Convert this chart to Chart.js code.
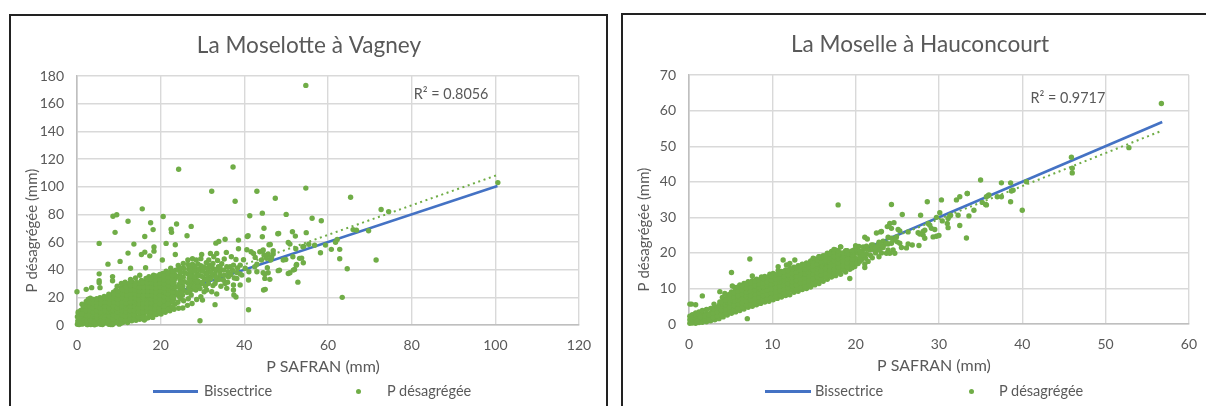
<!DOCTYPE html>
<html>
<head>
<meta charset="utf-8">
<title>P SAFRAN vs P désagrégée</title>
<script src="https://cdn.jsdelivr.net/npm/chart.js@4"></script>
<style>
  html, body { margin: 0; padding: 0; width: 1206px; height: 406px; overflow: hidden; background: #fff; }
  .frame { position: absolute; border: 2px solid #222; box-sizing: border-box; height: 420px; }
  canvas { position: absolute; }
  .legend { position: absolute; top: 383px; font: 14.5px Lato, sans-serif; color: #595959; line-height: 16px; white-space: nowrap; }
  .swatch-line { position: absolute; top: 390px; height: 3px; background: #4472c4; }
  .swatch-dot { position: absolute; top: 389px; width: 5px; height: 5px; border-radius: 50%; background: #70ad47; }
</style>
</head>
<body>
<div class="frame" style="left:9px;top:14px;width:599px"></div>
<div class="frame" style="left:621px;top:13px;width:620px"></div>

<canvas id="moselotteChart" width="595" height="390" style="left:11px;top:16px"></canvas>
<canvas id="moselleChart" width="587" height="390" style="left:622px;top:15px"></canvas>

<div class="swatch-line" style="left:153px;width:45px"></div>
<div class="legend" style="left:204px">Bissectrice</div>
<div class="swatch-dot" style="left:356px"></div>
<div class="legend" style="left:387px">P désagrégée</div>

<div class="swatch-line" style="left:765px;width:46px"></div>
<div class="legend" style="left:815px">Bissectrice</div>
<div class="swatch-dot" style="left:969px"></div>
<div class="legend" style="left:999px">P désagrégée</div>

<script>
// tick labels
const moselotteXTicks = [0, 20, 40, 60, 80, 100, 120];
const moselotteYTicks = [0, 20, 40, 60, 80, 100, 120, 140, 160, 180];
const moselleXTicks = [0, 10, 20, 30, 40, 50, 60];
const moselleYTicks = [0, 10, 20, 30, 40, 50, 60, 70];

// bissectrice and trend line ends
const moselotteBisector = [[0, 0], [100.5, 100.5]];
const moselotteTrend = [[0, 1], [100.5, 108.5]];
const moselleBisector = [[0, 0], [56.8, 56.8]];
const moselleTrend = [[0, 1.6], [56.8, 54.4]];

// dense band first then the scattered points
const moselottePoints = [
  [0.1,0.5],[0.2,3],[0.1,6],[0.3,8.5],[0.6,1.5],[0.7,4.5],[0.8,7.5],[0.9,10.5],
  [1.2,0.6],[1.3,3.5],[1.1,6.5],[1.4,9.5],[1.5,12.5],[1.2,15],[1.7,1.5],[1.8,5],[1.9,8],[1.8,11],[2,14.5],[2.2,17],
  [2.6,0.3],[2.7,3.1],[2.5,6.2],[2.8,9.2],[2.6,12.1],[2.9,15.4],[2.7,18.6],[3.4,1.7],[3.5,4.8],[3.3,7.7],[3.6,10.8],[3.4,13.6],[3.7,16.8],[3.2,19.3],
  [4.2,0.2],[4.1,3.4],[4.4,6.3],[4.2,9.4],[4.5,12.3],[4.3,15.2],[4.6,18],[5.1,1.6],[5,4.9],[5.3,7.8],[5.2,10.9],[5.4,13.8],[5.1,16.7],[5.5,19.8],
  [6.1,0.4],[6.2,3.2],[6,6.3],[6.3,9.3],[6.1,12.4],[6.4,15.3],[6.2,18.2],[6.5,20.6],[7,1.8],[7.2,5],[7.1,8],[7.3,11],[7,14],[7.4,17],[7.2,20],[7.6,22.3],
  [8.1,0.3],[8,3.3],[8.3,6.4],[8.1,9.4],[8.4,12.5],[8.2,15.5],[8.5,18.5],[8.3,21.4],[8.7,23.8],[9,1.6],[9.2,4.9],[9.1,8],[9.3,11],[9.1,14],[9.4,17],[9.2,20],[9.5,23],[9.3,25.2],
  [10.1,0.6],[10.2,3.4],[10,6.5],[10.3,9.5],[10.1,12.6],[10.4,15.6],[10.2,18.6],[10.5,21.6],[10.3,24.5],[10.6,27],[11,2],[11.2,5],[11.1,8],[11.3,11.1],[11,14.1],[11.4,17.1],[11.2,20.1],[11.5,23.1],[11.1,26.1],[11.4,29.2],
  [12.1,1.8],[12,3.6],[12.3,6.6],[12.1,9.6],[12.4,12.7],[12.2,15.7],[12.5,18.7],[12.3,21.7],[12.6,24.7],[12.2,27.7],[12.5,30.2],[13.1,3],[13.2,5.2],[13,8.2],[13.3,11.2],[13.1,14.2],[13.4,17.2],[13.2,20.2],[13.5,23.2],[13.1,26.2],[13.4,29.2],[13.2,31],
  [14.1,3.4],[14,6.7],[14.3,9.7],[14.1,12.8],[14.4,15.8],[14.2,18.8],[14.5,21.8],[14.3,24.8],[14.6,27.8],[14.2,30.8],[15,4.2],[15.2,8],[15.1,11.3],[15.3,14.3],[15,17.3],[15.4,20.3],[15.2,23.3],[15.5,26.3],[15.1,29.3],[15.4,32.3],
  [16.1,3.6],[16,6.8],[16.3,9.8],[16.1,12.9],[16.4,15.9],[16.2,18.9],[16.5,21.9],[16.3,24.9],[16.6,27.9],[16.2,30.9],[16.5,33.6],[17,5.3],[17.2,8.4],[17.1,11.4],[17.3,14.4],[17,17.4],[17.4,20.4],[17.2,23.4],[17.5,26.4],[17.1,29.4],[17.4,32.4],[17.2,35],
  [18.1,5.5],[18,7.9],[18.3,9.9],[18.1,13],[18.4,16],[18.2,19],[18.5,22],[18.3,25],[18.6,28],[18.2,31],[18.5,34],[18.3,36],[19,7.6],[19.2,11.5],[19.1,14.5],[19.3,17.5],[19,20.5],[19.4,23.5],[19.2,26.5],[19.5,29.5],[19.1,32.5],[19.4,35.5],
  [20.1,8],[20,10.6],[20.3,13.1],[20.1,16.1],[20.4,19.1],[20.2,22.1],[20.5,25.1],[20.3,28.1],[20.6,31.1],[20.2,34.1],[20.5,37.2],[21.1,9.2],[21.3,12.4],[21,15.5],[21.4,18.6],[21.2,21.6],[21.5,24.6],[21.1,27.6],[21.4,30.6],[21.2,33.6],[21.5,36.6],[21.3,39],
  [22.2,10.3],[22.1,13.8],[22.4,17.1],[22.2,20.2],[22.5,23.2],[22.3,26.2],[22.6,29.2],[22.2,32.2],[22.5,35.2],[22.3,38.2],[22.4,41],[23.2,11.4],[23.4,15],[23.1,18.7],[23.5,21.7],[23.3,24.7],[23.6,27.7],[23.2,30.7],[23.5,33.7],[23.3,36.7],[23.6,39.7],
  [24.3,12.1],[24.1,16.4],[24.5,20.5],[24.2,23.3],[24.6,26.3],[24.4,29.3],[24.7,32.3],[24.3,35.3],[24.6,38.3],[24.4,41.3],[24.2,43],[25.3,12.3],[25.5,17.5],[25.2,21.6],[25.6,24.8],[25.3,28],[25.7,31.4],[25.4,34.6],[25.8,37.8],[25.5,41],[25.4,44.5],
  [26.4,14.2],[26.6,19],[26.3,23.5],[26.7,27.2],[26.5,30.4],[26.8,33.8],[26.4,37],[26.7,40.5],[26.5,43.8],[26.5,47],[27.5,15.5],[27.3,21.7],[27.7,26],[27.4,30],[27.8,33.5],[27.5,37.2],[27.9,41],[27.6,44],[27.6,47.9],
  [28.6,18.4],[28.4,25.3],[28.7,29.4],[28.5,33],[28.8,37],[28.6,40.6],[28.9,44.2],[28.5,47],[29.6,20.4],[29.4,26.4],[29.8,30],[29.5,35.5],[29.9,39],[29.6,42.8],[29.8,51],[29.6,48],
  [30,18],[30.4,24],[30.7,28],[30.5,33],[30.8,37.4],[30.6,41.5],[30.9,45],[31,25.3],[31.4,30],[31.6,34.6],[31.4,39.2],[31.7,43.2],[31.5,47],[31.9,51.8],
  [32.2,24.1],[32.5,28.5],[32.4,36],[32.6,40.8],[32.7,49.4],[32.5,44.5],[33,37.3],[33.4,32.5],[33.4,22.4],[33.8,42.1],[33.4,51.8],[33.6,46.7],
  [34.2,36.1],[34.4,28],[34.6,44.3],[35,39.7],[35.4,30],[35.8,42.1],[35.7,52.5],[35.2,47.7],[35.8,26.5],[36.2,34.9],[36.6,42.1],[36.9,49.4],[37.4,43.3],[37.4,28.9],[37.4,25.3],[37.5,21.7],[38,20.2],[38,47.4],[38.2,33.7],[38.6,55.2],[39,28.9],[39,43.3],[39.4,36.1],[39.8,47.2],
  [40.2,41],[40.6,54.4],[41,32.5],[41.1,38.5],[41.6,53],[42.2,51.8],[42.5,42.1],[42.6,48.9],[43,38.5],[43,44],[43.7,53],[44.5,54.2],[44.6,25.3],
  [0,24],[2.2,25.8],[3.5,27],[5.3,30.5],[5.3,32],[5.3,37],[5.3,59],[5.5,27],[7.4,44],[8.6,78.7],[9.5,79.7],[9.1,67],[8.5,35],[8.5,32],[10.3,46],[12.2,75],[12.2,52],[13.6,58.5],[12.8,41],
  [15.6,84],[16.2,64],[15.4,51],[16.2,52.7],[16.4,41.4],[17.6,74],[18.2,69],[17.4,50],[18.4,53.4],[18.4,56.5],[20.6,78.5],[20.4,47],[21.3,59],[22.5,69.3],[22.6,67],[23.8,73],[23.5,58],[23.5,51],
  [24.3,112.6],[26.3,64.5],[27.3,71.3],[32.2,96.7],[33.2,59.2],[33.9,60.4],[35.4,62],[37.3,114.3],[37.8,89.5],[38.6,61.4],[40.7,64],[33,14.7],[29.4,3.1],[41,11],[43,96.7],[41.3,79],[40.9,64.5],
  [44.3,80.9],[44.7,70],[44.3,63.8],[47.4,91.7],[48.2,66.2],[50,80],[45,25.8],[54.7,173.3],[54.7,99],[46.2,58.2],[46.3,47],[50.5,59.7],[50.9,58.5],[51.5,67.4],[52.2,64.3],[52.8,31],[50.9,37.8],[52,40.2],[52.5,43.8],
  [54.1,45],[53.7,48.4],[49.9,47.4],[48.4,39.7],[56.2,77.2],[58.4,75.4],[65.4,92.4],[72.7,83.5],[74.5,82],[66,69],[66.8,68.6],[69.7,68.2],[58.2,52.3],[60.8,54.7],[62.8,54.7],[62.8,47.9],[64.6,40.7],[71.5,47],[63.4,20],
  [59.4,57.8],[61.8,59.8],[62.2,61.8],[56.8,57.7],[55.4,58.4],[54.2,56.9],[100.6,103],[52.3,55.2],[54,56.6],[48,66],[54.8,66.8],[44.4,53.7],[46.9,53.7],[45.9,58],[44.7,50.6],[45.7,51.3],[46.9,51.3],[45.3,48.2],[44.1,47],
  [46.5,48.9],[49.3,47],[51.6,49.4],[53.2,48.2],[52.4,43.3],[51.7,39.7],[50.5,37.3],[48.1,39.3],[46.1,33],[44.9,33.7],[45.7,37.8],[44.5,37.8],[45.5,41.4],[44.9,36.8]
];
const moselotteGaps = [
  [0.5,3],[0.4,6],[0.3,9.5],[1.5,2],[1.6,7],[1.5,11],[1.6,14],[2.2,1.5],[2.2,4.5],[2.1,7.5],[2.2,10.5],[2.3,13.5],[3,1.5],[3.1,4.5],[3,7.5],[3.1,10.5],[3,13.5],[3,16.5],
  [3.9,0.5],[3.8,3.5],[3.9,6.5],[3.9,9.5],[3.8,12.5],[3.9,15.5],[3.9,18.5],[4.7,1.5],[4.7,4.5],[4.8,7.5],[4.7,10.5],[4.8,13.5],[4.7,16.5],[4.7,19],
  [5.6,0.5],[5.6,3.5],[5.7,6.5],[5.7,9.5],[5.6,12.5],[5.8,15.5],[5.7,18.5],[6.6,1.5],[6.6,4.5],[6.6,7.5],[6.7,10.5],[6.6,13.5],[6.7,16.5],[6.8,19.5],
  [7.6,0.5],[7.6,3.5],[7.7,6.5],[7.6,9.5],[7.7,12.5],[7.8,15.5],[7.8,18.5],[7.9,21],[8.6,1.5],[8.6,4.5],[8.7,7.5],[8.7,10.5],[8.7,13.5],[8.8,16.5],[8.8,19.5],[8.9,22.5],
  [9.6,2],[9.6,6],[9.7,9.5],[9.7,12.5],[9.8,15.5],[9.7,18.5],[9.9,21.5],[9.8,24.5],[9.6,28],[10.6,1.5],[10.6,4.5],[10.7,7.5],[10.7,10.5],[10.8,13.5],[10.8,16.5],[10.9,19.5],[10.9,22.5],[10.9,25.5],[10.6,30],
  [11.6,3.5],[11.6,6.5],[11.7,9.5],[11.7,12.5],[11.8,15.5],[11.8,18.5],[11.9,21.5],[11.9,24.5],[11.8,27.5],[11.5,31],[12.7,4.5],[12.7,7.5],[12.7,10.5],[12.8,13.5],[12.8,16.5],[12.9,19.5],[12.9,22.5],[12.9,25.5],[12.8,28.5],[12.8,33],
  [13.7,4.5],[13.7,7.5],[13.7,10.5],[13.8,13.5],[13.8,16.5],[13.9,19.5],[13.9,22.5],[13.9,25.5],[13.8,28.5],[14,34],[14.7,5.5],[14.7,9.5],[14.7,12.5],[14.8,15.5],[14.8,18.5],[14.9,21.5],[14.9,24.5],[14.9,27.5],[14.8,30.5],[15,36],
  [15.7,5.5],[15.7,9.5],[15.8,12.5],[15.8,15.5],[15.8,18.5],[15.9,21.5],[15.9,24.5],[15.9,27.5],[15.8,30.5],[16.7,5],[16.7,9.5],[16.8,12.5],[16.8,15.5],[16.8,18.5],[16.9,21.5],[16.9,24.5],[16.9,27.5],[16.8,30.5],[16.8,33.5],
  [17.7,6.5],[17.7,9.5],[17.8,12.5],[17.8,15.5],[17.8,18.5],[17.9,21.5],[17.9,24.5],[17.9,27.5],[17.8,30.5],[17.8,33.5],[18.7,8.5],[18.7,11.5],[18.8,14.5],[18.8,17.5],[18.8,20.5],[18.9,23.5],[18.9,26.5],[18.9,29.5],[18.8,32.5],[18.8,35.5],
  [19.7,9.5],[19.7,12.5],[19.8,15.5],[19.8,18.5],[19.8,21.5],[19.9,24.5],[19.9,27.5],[19.9,30.5],[19.8,33.5],[19.8,36.5],[20.8,10.5],[20.8,13.5],[20.8,17.5],[20.8,20.5],[20.9,23.5],[20.9,26.5],[20.9,29.5],[20.8,32.5],[20.8,35.5],
  [21.8,11.5],[21.8,15.5],[21.8,19],[21.8,22.5],[21.9,25.5],[21.9,28.5],[21.9,31.5],[21.8,34.5],[21.8,37.5],[22.8,13],[22.8,17],[22.8,20.5],[22.9,24],[22.9,27],[22.9,30],[22.8,33],[22.8,36],[22.9,39],
  [24.8,19],[24.9,23],[24.9,27.5],[24.8,31],[24.9,34.5],[24.8,38],[24.8,41],[27,24.5],[26.9,29],[27,32],[27.1,35.5],[27.1,39],[27,42.5],[28,27.5],[28.1,31],[28.2,35],[28.1,39],[28.2,42.6],
  [29,28],[29,31.5],[29.1,36],[29.2,40],[30,31],[30,35],[30.1,39],[30.1,42],[31,33],[31,36.5],[31.2,40.8],[32,33.5],[32,38],[32.1,42],[33,30],[33.2,34.5],[33.3,40],[34.1,33],[34.1,38.8],[34.2,42],[35.2,36],[35,32.5],[36.1,38.5],[36,31],[36.8,36.5],[37.2,39.6],[37.6,34],[38.2,38],[38.4,41.2],[39,37],
  [0.3,1.8],[0.5,0.4],[0.9,2.8],[1,5],[1.2,8],[1.7,3.4],[2.4,0.4],[2.4,3],[3.3,0.4],[3.3,3.2],[4,2],[4.6,0.6],[5.4,2.4],[6.3,2.2],[7.4,2.4],[8.5,0.4]
];

const moselPointsDense = [
  [0.1,0.2],[0.1,1.2],[0.1,2.2],[0.4,0.3],[0.4,1.5],[0.4,2.6],[0.8,0.2],[0.8,1.2],[0.8,2.3],[0.8,3.1],
  [1.2,0.4],[1.2,1.5],[1.2,2.6],[1.2,3.4],[1.6,0.5],[1.6,1.7],[1.6,2.8],[1.6,3.8],[2.1,0.6],[2.1,1.7],[2.1,2.9],[2.1,4.1],
  [2.6,0.9],[2.6,2.1],[2.6,3.2],[2.6,4.4],[3.1,1.2],[3.1,2.4],[3.1,3.6],[3.1,4.8],[3,5.6],[3.6,1.5],[3.6,2.8],[3.6,4],[3.6,5.2],[3.7,6.2],
  [4.1,2],[4.1,3.2],[4.1,4.4],[4.1,5.6],[4.1,6.8],[4,7.5],[4.6,2.5],[4.6,3.7],[4.6,4.9],[4.6,6.1],[4.6,7.3],[4.5,8.2],
  [5.1,3],[5.1,4.2],[5.1,5.4],[5.1,6.6],[5.1,7.8],[5.1,9],[5.6,3.4],[5.6,4.6],[5.6,5.8],[5.6,7],[5.6,8.2],[5.6,9.4],[5.5,10.3],
  [6.1,3.8],[6.1,5],[6.1,6.2],[6.1,7.4],[6.1,8.6],[6.1,9.8],[6.1,11],[6.6,4.2],[6.6,5.4],[6.6,6.6],[6.6,7.8],[6.6,9],[6.6,10.2],[6.6,11.4],
  [7.1,4.7],[7.1,5.9],[7.1,7.1],[7.1,8.3],[7.1,9.5],[7.1,10.7],[7.1,11.9],[7.6,5],[7.6,6.2],[7.6,7.4],[7.6,8.6],[7.6,9.8],[7.6,11],[7.6,12.2],
  [8.1,5.4],[8.1,6.6],[8.1,7.8],[8.1,9],[8.1,10.2],[8.1,11.4],[8.1,12.6],[8.6,5.8],[8.6,7],[8.6,8.2],[8.6,9.4],[8.6,10.6],[8.6,11.8],[8.7,13.2],
  [9.1,6.2],[9.1,7.4],[9.1,8.6],[9.1,9.8],[9.1,11],[9.1,12.2],[9.1,13.4],[9.6,6.4],[9.6,7.7],[9.6,8.9],[9.6,10.1],[9.6,11.3],[9.6,12.5],[9.7,14],
  [10.1,6.8],[10.1,8.1],[10.1,9.3],[10.1,10.5],[10.1,11.7],[10.1,12.9],[10.1,14.2],[10.6,7.2],[10.6,8.5],[10.6,9.7],[10.6,10.9],[10.6,12.1],[10.6,13.3],[10.7,15],[10.7,16.1],
  [11.1,7.6],[11.1,8.8],[11.1,10],[11.1,11.2],[11.1,12.4],[11.1,13.6],[11.1,14.8],[11.3,18],[11.6,8],[11.6,9.2],[11.6,10.4],[11.6,11.6],[11.6,12.8],[11.6,14],[11.6,15.2],[11.7,16.6],
  [12.1,8.2],[12.1,9.6],[12.1,10.8],[12.1,12],[12.1,13.2],[12.1,14.4],[12.1,15.6],[12.1,17],[12.7,18],[12.6,8.9],[12.6,10.1],[12.6,11.3],[12.6,12.5],[12.6,13.7],[12.6,14.9],[12.6,16],
  [13.1,9.2],[13.1,10.4],[13.1,11.6],[13.1,12.8],[13.1,14],[13.1,15.2],[13.1,16.4],[13.6,9.7],[13.6,10.9],[13.6,12.1],[13.6,13.3],[13.6,14.5],[13.6,15.7],[13.6,16.8],
  [14.1,10],[14.1,11.2],[14.1,12.4],[14.1,13.6],[14.1,14.8],[14.1,16],[14.1,17.2],[14.6,10.4],[14.6,11.6],[14.6,12.8],[14.6,14],[14.6,15.2],[14.6,16.4],[14.6,17.7],
  [15.1,11],[15.1,12.2],[15.1,13.4],[15.1,14.6],[15.1,15.8],[15.1,17],[15.1,18.3],[15.6,11.4],[15.6,12.6],[15.6,13.8],[15.6,15],[15.6,16.2],[15.6,17.4],[15.6,18.9],
  [16.1,12],[16.1,13.2],[16.1,14.4],[16.1,15.6],[16.1,16.8],[16.1,18],[16.1,19.2],[16.6,12.6],[16.6,13.8],[16.6,15],[16.6,16.2],[16.6,17.4],[16.6,18.6],[16.6,19.9],
  [17.1,13.2],[17.1,14.4],[17.1,15.6],[17.1,16.8],[17.1,18],[17.1,19.2],[17.1,20.4],[17.6,13.6],[17.6,14.8],[17.6,16],[17.6,17.2],[17.6,18.4],[17.6,19.6],[17.6,20.8],
  [18.2,14],[18.2,15.2],[18.2,16.4],[18.2,17.6],[18.2,18.8],[18.2,20],[18.2,21.7],[18.8,14.6],[18.8,15.8],[18.8,17],[18.8,18.2],[18.8,19.4],[18.8,20.6],
  [19.3,12.8],[19.3,15.4],[19.3,16.6],[19.3,17.8],[19.3,19],[19.3,20.2],[19.9,16.2],[19.9,17.4],[19.9,18.6],[19.9,19.8],[19.9,21],
  [20.3,17],[20.3,18.2],[20.3,19.9],[20.1,21.3],[20.7,18],[20.7,19.2],[20.8,20.4],[20.9,21.7],[21.1,15.9],[21.1,16.9],[21.2,18.5],[21.3,19.7],[21.3,21],[21.3,21.9],[21.7,20.8],[21.8,19.3],[22.1,22.2],[22.2,20.9]
];
const moselPointsGaps = [
  [1,0.9],[1.4,2],[1.9,1.2],[1.9,2.3],[2.4,1.5],[2.4,2.6],[2.9,1.8],[2.9,3],[2.9,4.2],[3.4,2.2],[3.4,3.4],[3.4,4.6],[3.9,2.6],[3.9,3.8],[3.9,5],[3.9,6.2],[4.4,3.1],[4.4,4.3],[4.4,5.5],[4.4,6.7],
  [4.9,3.6],[4.9,4.8],[4.9,6],[4.9,7.2],[4.9,8.4],[5.4,4],[5.4,5.2],[5.4,6.4],[5.4,7.6],[5.4,8.8],[5.9,4.4],[5.9,5.6],[5.9,6.8],[5.9,8],[5.9,9.2],[5.9,10.4],[6.4,4.8],[6.4,6],[6.4,7.2],[6.4,8.4],[6.4,9.6],[6.4,10.8],
  [6.9,5.3],[6.9,6.5],[6.9,7.7],[6.9,8.9],[6.9,10.1],[6.9,11.3],[7.4,5.6],[7.4,6.8],[7.4,8],[7.4,9.2],[7.4,10.4],[7.4,11.6],[7.9,6],[7.9,7.2],[7.9,8.4],[7.9,9.6],[7.9,10.8],[7.9,12],
  [8.4,6.4],[8.4,7.6],[8.4,8.8],[8.4,10],[8.4,11.2],[8.4,12.4],[8.9,6.8],[8.9,8],[8.9,9.2],[8.9,10.4],[8.9,11.6],[8.9,12.8],[9.4,7],[9.4,8.3],[9.4,9.5],[9.4,10.7],[9.4,11.9],[9.4,13.1],
  [9.9,7.4],[9.9,8.7],[9.9,9.9],[9.9,11.1],[9.9,12.3],[9.9,13.5],[10.4,7.8],[10.4,9.1],[10.4,10.3],[10.4,11.5],[10.4,12.7],[10.4,13.9],[10.9,8.2],[10.9,9.4],[10.9,10.6],[10.9,11.8],[10.9,13],[10.9,14.2],
  [11.4,8.6],[11.4,9.8],[11.4,11],[11.4,12.2],[11.4,13.4],[11.4,14.6],[11.9,9],[11.9,10.2],[11.9,11.4],[11.9,12.6],[11.9,13.8],[11.9,15],[12.4,9.5],[12.4,10.7],[12.4,11.9],[12.4,13.1],[12.4,14.3],[12.4,15.5],
  [12.9,9.8],[12.9,11],[12.9,12.2],[12.9,13.4],[12.9,14.6],[12.9,15.8],[13.4,10.3],[13.4,11.5],[13.4,12.7],[13.4,13.9],[13.4,15.1],[13.4,16.3],[13.9,10.6],[13.9,11.8],[13.9,13],[13.9,14.2],[13.9,15.4],[13.9,16.6],
  [14.4,11],[14.4,12.2],[14.4,13.4],[14.4,14.6],[14.4,15.8],[14.4,17],[14.9,11.6],[14.9,12.8],[14.9,14],[14.9,15.2],[14.9,16.4],[14.9,17.6],[15.4,12],[15.4,13.2],[15.4,14.4],[15.4,15.6],[15.4,16.8],[15.4,18],
  [15.9,12.6],[15.9,13.8],[15.9,15],[15.9,16.2],[15.9,17.4],[15.9,18.6],[16.4,13.2],[16.4,14.4],[16.4,15.6],[16.4,16.8],[16.4,18],[16.4,19.2],[16.9,13.8],[16.9,15],[16.9,16.2],[16.9,17.4],[16.9,18.6],[16.9,19.8],
  [17.4,14.2],[17.4,15.4],[17.4,16.6],[17.4,17.8],[17.4,19],[17.4,20.2],[17.9,14.8],[17.9,16],[17.9,17.2],[17.9,18.4],[17.9,19.6],[17.9,20.6],[18.5,15.2],[18.5,16.4],[18.5,17.6],[18.5,18.8],[18.5,20],[19,16],[19,17.2],[19,18.4],[19,19.6],[19,20.6],
  [19.6,15.8],[19.6,17],[19.6,18.2],[19.6,19.4],[19.6,20.6],[20.5,17.6],[20.5,18.8],[20.5,20.4],[20.9,19.4],[21.5,17.6],[22,18.6],[22.4,20],[22.6,21],
  [20,22],[20.4,21.8],[21.9,22.2],[22,21.4],[22.3,21.5],[22.7,22],[23.2,21.8],[23.5,22.4],[23.9,22.5],[23.3,23.3],[22.8,23]
];
const moselPointsScatter = [
  [0.1,5.6],[0.3,5.6],[0.8,5.4],[1.6,7.9],[7,1.5],[5.1,14.5],[5.2,10.7],[7.3,18.3],[7.6,13.5],[3.7,9.1],[4.3,8.6],[17.9,33.5],[24.3,33.6],[25.6,30.8],[24.1,28.3],[24.6,28.5],
  [23.8,27.4],[24.3,26.9],[25.1,26.6],[25.3,26.2],[22.5,25.6],[23,25.9],[21.1,24.4],[21.4,23.9],[22.9,22.7],[22.8,18.9],[23.7,19.9],[14.9,18.5],[15.6,18.9],[17.4,21],[18.2,21.7],
  [28.6,34.4],[30.3,34.9],[32.1,34.9],[32.5,35.8],[33.4,36.7],[35.9,36.1],[35,40.5],[27.8,30.6],[30.1,31.3],[23.1,26],[26.3,25.9],[27.5,25.7],[28.1,26],[28.7,28.3],[28.9,27.8],[28.3,26.4],
  [28.1,25],[27.7,25.3],[28.3,24.1],[29.1,26.9],[29.5,26.6],[29.3,24.5],[29.7,24.7],[30,24.9],[27.6,22.1],[26.8,22.2],[26.3,22.5],[26.1,21.4],[23.9,24.4],[24.3,24.1],[24.9,24.5],[25,23.1],
  [25.3,22.7],[25.5,21.5],[24.7,23.6],[24.3,22.7],[23.7,22.7],[23.3,21.5],[23.9,20.8],[24.5,20.8],[24.7,19.9],[23.1,20],[24.1,19.9],[22.9,20.8],[29.7,30],[30.4,29],[31.1,29.7],[31.3,30.4],
  [32.3,30.6],[31,28.3],[31.1,27.1],[32.5,27.7],[33.6,30.4],[34.2,32],[33.3,24.2],[35.2,34.2],[35.6,33.6],[56.7,62],[52.8,49.6],[45.9,46.9],[46,43.8],[46,42.5],[40.5,40],[38.6,39.7],[37.5,39.7],
  [40,32],[38.6,34.4],[38.7,37.4],[38.9,37.6],[37,35.8],[37.5,35.8],[36,36.3],[35.7,35.8],[35.7,33.5],[33.4,36.7],[31.4,30.6]
];

const r2Moselotte = 'R² = 0.8056';
const r2Moselle = 'R² = 0.9717';

const moselotteTitle = 'La Moselotte à Vagney';
const moselleTitle = 'La Moselle à Hauconcourt';
const xAxisTitle = 'P SAFRAN (mm)';
const yAxisTitle = 'P désagrégée (mm)';

const GREY = '#595959';
const GRID = '#d9d9d9';
const toXY = p => ({ x: p[0], y: p[1] });

// R² label, placed in data coordinates, and small moves of the axis titles
const chartExtras = {
  id: 'chartExtras',
  beforeDraw(chart, args, opts) {
    const scales = [[chart.scales.x, opts.xNudge], [chart.scales.y, opts.yNudge]];
    scales.forEach(([scale, nudge]) => {
      if (scale.nudged) return;
      scale.nudged = true;
      const drawTitle = scale.drawTitle;
      scale.drawTitle = function () {
        chart.ctx.save();
        chart.ctx.translate(nudge[0], nudge[1]);
        drawTitle.call(this);
        chart.ctx.restore();
      };
    });
  },
  afterDatasetsDraw(chart, args, opts) {
    const ctx = chart.ctx;
    ctx.save();
    ctx.font = '14.4px Lato';
    ctx.fillStyle = GREY;
    ctx.textBaseline = 'middle';
    ctx.fillText(opts.text, chart.scales.x.getPixelForValue(opts.at[0]), chart.scales.y.getPixelForValue(opts.at[1]));
    ctx.restore();
  }
};

function buildChart(id, cfg) {
  return new Chart(document.getElementById(id), {
    type: 'scatter',
    data: {
      datasets: [{
        label: 'Bissectrice',
        data: cfg.bisector.map(toXY),
        showLine: true,
        borderColor: '#4472c4',
        borderWidth: 2.6,
        pointRadius: 0,
        order: 3
      }, {
        label: 'P désagrégée',
        data: cfg.points.map(toXY),
        backgroundColor: '#70ad47',
        borderColor: '#70ad47',
        pointRadius: 2.7,
        pointBorderWidth: 0,
        clip: false,
        order: 2
      }, {
        label: 'Linéaire (P désagrégée)',
        data: cfg.trend.map(toXY),
        showLine: true,
        borderColor: '#70ad47',
        borderWidth: 2,
        borderDash: [2, 3.6],
        pointRadius: 0,
        order: 1
      }]
    },
    options: {
      responsive: false,
      animation: false,
      layout: { padding: { left: 28, right: cfg.padRight, top: 0, bottom: 0 } },
      scales: {
        x: {
          min: cfg.xTicks[0],
          max: cfg.xTicks[cfg.xTicks.length - 1],
          afterBuildTicks: s => { s.ticks = cfg.xTicks.map(v => ({ value: v })); },
          afterFit: s => { s.height = 81; },
          grid: { color: GRID, lineWidth: 1.4, drawTicks: false },
          border: { color: '#bfbfbf', width: 1.6 },
          ticks: { color: GREY, font: { family: 'Lato', size: 14 }, padding: 12, maxRotation: 0 },
          title: { display: true, text: xAxisTitle, color: GREY, font: { family: 'Lato', size: 16 }, padding: { top: 0, bottom: 30 } }
        },
        y: {
          min: cfg.yTicks[0],
          max: cfg.yTicks[cfg.yTicks.length - 1],
          afterBuildTicks: s => { s.ticks = cfg.yTicks.map(v => ({ value: v })); },
          afterFit: s => { s.width = cfg.yWidth; },
          grid: { color: GRID, lineWidth: 1.4, drawTicks: false },
          border: { color: '#bfbfbf', width: 1.6 },
          ticks: { color: GREY, font: { family: 'Lato', size: 14 }, padding: 13 },
          title: { display: true, text: yAxisTitle, color: GREY, font: { family: 'Lato', size: 15 }, padding: 0 }
        }
      },
      plugins: {
        legend: { display: false },
        tooltip: { enabled: false },
        title: {
          display: true,
          text: cfg.title,
          color: GREY,
          font: { family: 'Lato', size: 22.6, weight: 'normal' },
          padding: { top: 16, bottom: 17 }
        },
        chartExtras: { text: cfg.r2, at: cfg.r2At, xNudge: [-5, 0], yNudge: cfg.yNudge }
      }
    },
    plugins: [chartExtras]
  });
}

buildChart('moselotteChart', {
  title: moselotteTitle,
  bisector: moselotteBisector,
  trend: moselotteTrend,
  points: moselottePoints.concat(moselotteGaps),
  xTicks: moselotteXTicks,
  yTicks: moselotteYTicks,
  r2: r2Moselotte,
  r2At: [80.5, 167],
  padRight: 27,
  yWidth: 38,
  yNudge: [-15.5, 30]
});

buildChart('moselleChart', {
  title: moselleTitle,
  bisector: moselleBisector,
  trend: moselleTrend,
  points: moselPointsDense.concat(moselPointsGaps, moselPointsScatter),
  xTicks: moselleXTicks,
  yTicks: moselleYTicks,
  r2: r2Moselle,
  r2At: [41, 63.6],
  padRight: 19,
  yWidth: 39,
  yNudge: [-14.5, 30]
});
</script>
</body>
</html>
